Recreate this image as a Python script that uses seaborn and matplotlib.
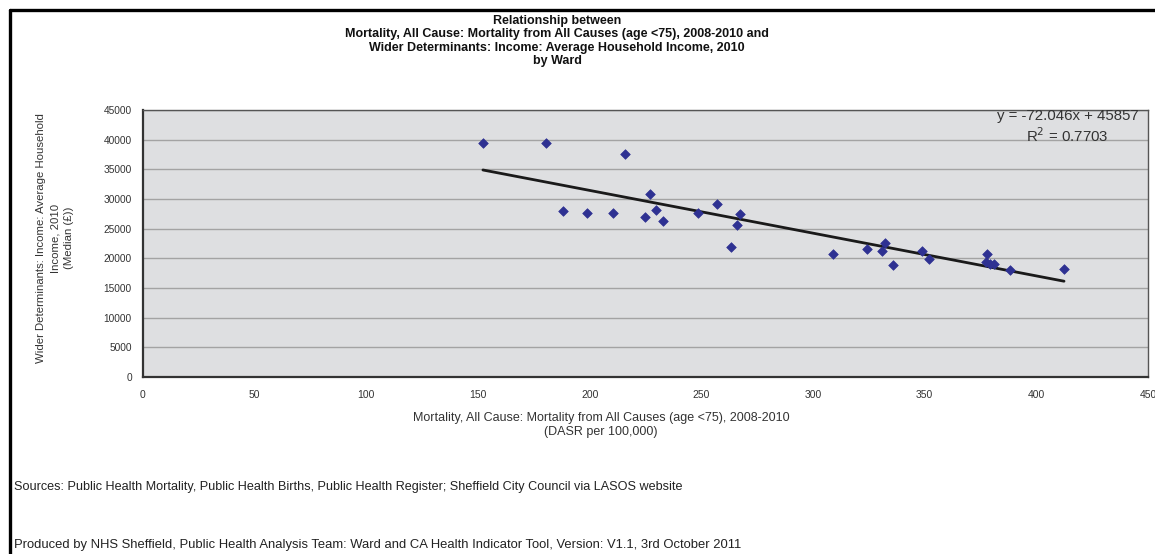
import matplotlib
matplotlib.use("Agg")
import matplotlib.pyplot as plt
from matplotlib.lines import Line2D
import seaborn as sns
import pandas as pd
import numpy as np

# Ward-level values: under-75 all-cause mortality (DASR per 100,000) vs median household income (£)
mortality = [152.2, 180.4, 188.0, 198.7, 210.6, 215.8, 224.9, 227.2, 229.6, 232.7,
             248.7, 257.1, 263.5, 265.8, 267.3, 308.9, 324.1, 330.7, 332.1, 335.9,
             348.8, 352.1, 377.7, 377.4, 379.3, 381.1, 388.2, 412.4]
income = [39500, 39500, 28000, 27600, 27600, 37500, 27000, 30900, 28100, 26300,
          27700, 29150, 21900, 25700, 27400, 20750, 21650, 21300, 22600, 18800,
          21200, 19950, 20800, 19350, 19050, 19000, 18100, 18200]

# Linear trend as reported
slope = -72.046
intercept = 45857
r_squared = 0.7703

x_ticks = list(range(0, 451, 50))
y_ticks = list(range(0, 45001, 5000))

title_lines = [
    "Relationship between",
    "Mortality, All Cause: Mortality from All Causes (age <75), 2008-2010 and",
    "Wider Determinants: Income: Average Household Income, 2010",
    "by Ward",
]
x_label = "Mortality, All Cause: Mortality from All Causes (age <75), 2008-2010\n(DASR per 100,000)"
y_label = "Wider Determinants: Income: Average Household\nIncome, 2010\n(Median (£))"
source_note = ("Sources: Public Health Mortality, Public Health Births, Public Health Register; "
               "Sheffield City Council via LASOS website")
produced_note = ("Produced by NHS Sheffield, Public Health Analysis Team: Ward and CA Health "
                 "Indicator Tool, Version: V1.1, 3rd October 2011")

sns.set_style("white")
plt.rcParams["font.family"] = ["Liberation Sans", "DejaVu Sans"]

df = pd.DataFrame({"mortality": mortality, "income": income})

W, H = 1155, 554
fig = plt.figure(figsize=(W / 100, H / 100), dpi=100)
fig.patch.set_facecolor("white")
ax = fig.add_axes([143 / W, 1 - 377 / H, (1148 - 143) / W, (377 - 110) / H])
ax.set_facecolor("#dedfe1")

sns.scatterplot(data=df, x="mortality", y="income", ax=ax, marker="D", s=24,
                color="#2e3192", edgecolor="#2e3192", linewidth=0.5, zorder=3)

xs = np.array([min(mortality), max(mortality)])
ax.plot(xs, slope * xs + intercept, color="#1a1a1a", linewidth=2, zorder=2)

ax.set_xlim(0, 450)
ax.set_ylim(0, 45000)
ax.set_xticks(x_ticks)
ax.set_yticks(y_ticks)
ax.set_xticklabels([str(t) for t in x_ticks], fontsize=7.5, color="#333333")
ax.set_yticklabels([str(t) for t in y_ticks], fontsize=7.3, color="#333333")
ax.tick_params(axis="y", direction="out", length=5, width=1, color="#333333", pad=3)
ax.tick_params(axis="x", direction="out", length=4, width=1, color="#333333", pad=5)
ax.yaxis.grid(True, color="#a3a3a3", linewidth=1)
ax.set_axisbelow(True)
for side in ["left", "bottom"]:
    ax.spines[side].set_color("#333333")
    ax.spines[side].set_linewidth(1.6)
for side in ["top", "right"]:
    ax.spines[side].set_color("#555555")
    ax.spines[side].set_linewidth(1.0)

ax.set_xlabel("")
ax.set_ylabel(y_label, fontsize=8.2, color="#333333", linespacing=1.5)
ax.yaxis.set_label_coords((74 - 143) / (1148 - 143), (377 - 238) / (377 - 110))

fig.text(601 / W, 1 - 425 / H, x_label, ha="center", va="center", fontsize=9,
         color="#333333", linespacing=1.2)

for i, line in enumerate(title_lines):
    fig.text(557 / W, 1 - (21 + 13.4 * i) / H, line, ha="center", va="center",
             fontsize=9, fontweight="bold", fontstretch="condensed",
             family=["Liberation Sans Narrow", "Liberation Sans"], color="#111111")

ax.text(414, 44000, f"y = {slope}x + {intercept}", ha="center", va="center",
        fontsize=10.8, color="#333333", clip_on=False)
ax.text(414, 40600, f"R$^2$ = {r_squared}", ha="center", va="center",
        fontsize=10.8, color="#333333", clip_on=False)

fig.text(14 / W, 1 - 487 / H, source_note, ha="left", va="center", fontsize=9.1, color="#222222")
fig.text(14 / W, 1 - 545 / H, produced_note, ha="left", va="center", fontsize=9.4, color="#222222")

# frame lines along the top and left edges
fig.add_artist(Line2D([10 / W, 1.0], [1 - 10 / H, 1 - 10 / H], transform=fig.transFigure,
                      color="black", linewidth=2.4))
fig.add_artist(Line2D([10 / W, 10 / W], [0.0, 1 - 10 / H], transform=fig.transFigure,
                      color="black", linewidth=2.4))

fig.savefig("out.png", dpi=100)
